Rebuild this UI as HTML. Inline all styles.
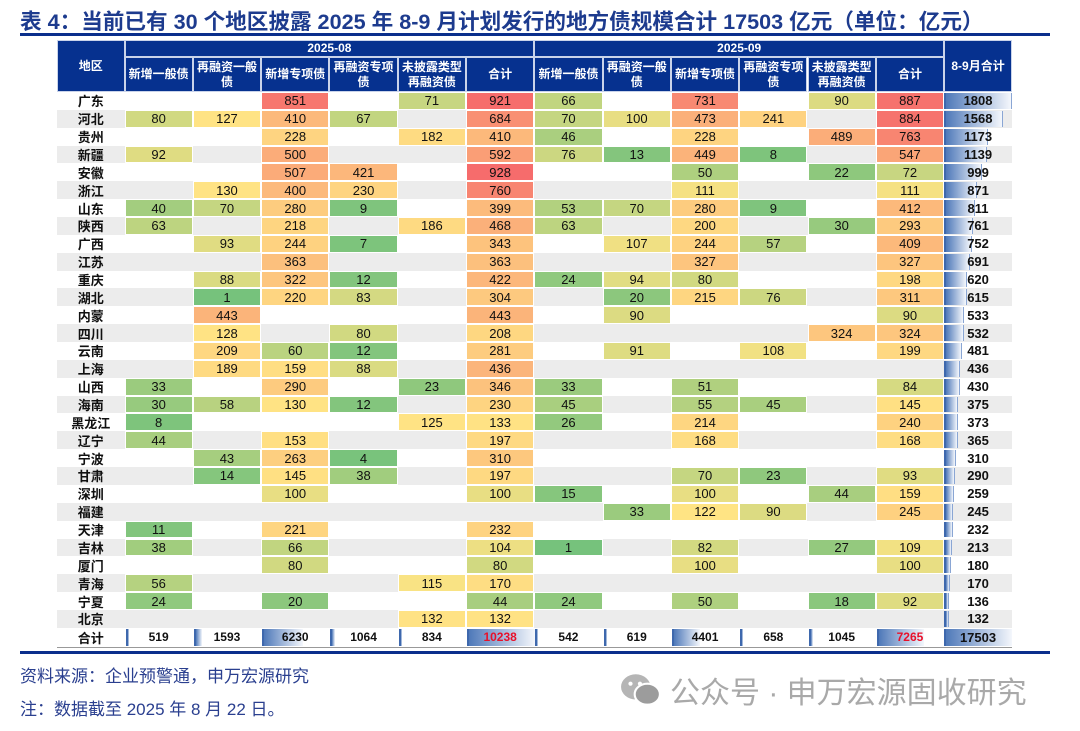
<!DOCTYPE html>
<html><head><meta charset="utf-8">
<style>
body{margin:0;width:1080px;height:731px;background:#fff;position:relative;overflow:hidden;font-family:"Liberation Sans","Noto Sans CJK SC",sans-serif;}
.abs{position:absolute;box-sizing:border-box;}
.c{display:flex;align-items:center;justify-content:center;font-size:13px;color:#111;}
.h{background:#06318f;color:#fff;font-weight:bold;font-size:12px;text-align:center;display:flex;align-items:center;justify-content:center;border:1px solid #c9d3ea;line-height:15px;}
</style></head><body>
<div class="abs" style="left:20px;top:5px;font-size:21.6px;font-weight:bold;color:#1d3b8e;white-space:nowrap;">表 4：当前已有 30 个地区披露 2025 年 8-9 月计划发行的地方债规模合计 17503 亿元（单位：亿元）</div>
<div class="abs" style="left:20px;top:33px;width:1030px;height:3px;background:#0a2f8c;"></div>
<div id="tbl"></div>
<div class="abs" style="left:20px;top:651px;width:1030px;height:3px;background:#0a2f8c;"></div>
<div class="abs" style="left:20px;top:662px;font-size:17px;color:#2a3f8f;">资料来源：企业预警通，申万宏源研究</div>
<div class="abs" style="left:20px;top:695px;font-size:17px;color:#2a3f8f;">注：数据截至 2025 年 8 月 22 日。</div>
<div class="abs" style="left:620px;top:668px;font-size:30px;color:#a9a9a9;white-space:nowrap;display:flex;align-items:center;">
<svg width="42" height="36" viewBox="0 0 40 34" style="margin-right:8px"><ellipse cx="15" cy="14" rx="14" ry="12" fill="#b5b5b5"/><ellipse cx="26" cy="21" rx="12" ry="10" fill="#9c9c9c" stroke="#fff" stroke-width="2"/><circle cx="10" cy="11" r="2" fill="#fff"/><circle cx="19" cy="11" r="2" fill="#fff"/></svg>公众号 · 申万宏源固收研究</div>
<script>
const regions=["广东","河北","贵州","新疆","安徽","浙江","山东","陕西","广西","江苏","重庆","湖北","内蒙","四川","云南","上海","山西","海南","黑龙江","辽宁","宁波","甘肃","深圳","福建","天津","吉林","厦门","青海","宁夏","北京"];
const colHeads=["新增一般债","再融资一般<br>债","新增专项债","再融资专项<br>债","未披露类型<br>再融资债","合计"];
const aug=[[null,null,851,null,71,921],[80,127,410,67,null,684],[null,null,228,null,182,410],[92,null,500,null,null,592],[null,null,507,421,null,928],[null,130,400,230,null,760],[40,70,280,9,null,399],[63,null,218,null,186,468],[null,93,244,7,null,343],[null,null,363,null,null,363],[null,88,322,12,null,422],[null,1,220,83,null,304],[null,443,null,null,null,443],[null,128,null,80,null,208],[null,209,60,12,null,281],[null,189,159,88,null,436],[33,null,290,null,23,346],[30,58,130,12,null,230],[8,null,null,null,125,133],[44,null,153,null,null,197],[null,43,263,4,null,310],[null,14,145,38,null,197],[null,null,100,null,null,100],[null,null,null,null,null,null],[11,null,221,null,null,232],[38,null,66,null,null,104],[null,null,80,null,null,80],[56,null,null,null,115,170],[24,null,20,null,null,44],[null,null,null,null,132,132]];
const sep=[[66,null,731,null,90,887],[70,100,473,241,null,884],[46,null,228,null,489,763],[76,13,449,8,null,547],[null,null,50,null,22,72],[null,null,111,null,null,111],[53,70,280,9,null,412],[63,null,200,null,30,293],[null,107,244,57,null,409],[null,null,327,null,null,327],[24,94,80,null,null,198],[null,20,215,76,null,311],[null,90,null,null,null,90],[null,null,null,null,324,324],[null,91,null,108,null,199],[null,null,null,null,null,null],[33,null,51,null,null,84],[45,null,55,45,null,145],[26,null,214,null,null,240],[null,null,168,null,null,168],[null,null,null,null,null,null],[null,null,70,23,null,93],[15,null,100,null,44,159],[null,33,122,90,null,245],[null,null,null,null,null,null],[1,null,82,null,27,109],[null,null,100,null,null,100],[null,null,null,null,null,null],[24,null,50,null,18,92],[null,null,null,null,null,null]];
const rowTotals=[1808,1568,1173,1139,999,871,811,761,752,691,620,615,533,532,481,436,430,375,373,365,310,290,259,245,232,213,180,170,136,132];
const augTotals=[519,1593,6230,1064,834,10238];
const sepTotals=[542,619,4401,658,1045,7265];
const grandTotal=17503;

const tbl=document.getElementById('tbl');
const X0=57,RX=124.5,CW=68.3,TOP=40,H1=17,H2=35,RY=92,RH=17.86;
const colX=i=>RX+i*CW;
const rowY=r=>RY+r*RH;
function mk(cls,l,t,w,h,html,style){const d=document.createElement('div');d.className='abs '+cls;d.style.left=l+'px';d.style.top=t+'px';d.style.width=w+'px';d.style.height=h+'px';if(html!=null)d.innerHTML=html;if(style)d.style.cssText+=style;tbl.appendChild(d);return d;}
function lerp(a,b,t){return a.map((v,i)=>Math.round(v+(b[i]-v)*t));}
const G=[118,194,124],Y=[255,228,132],R=[246,108,108];
function color(v){const mid=120,mx=928;let c;if(v<=mid)c=lerp(G,Y,Math.max(0,(v-1)/(mid-1)));else c=lerp(Y,R,Math.min(1,(v-mid)/(mx-mid)));return `rgb(${c})`;}

let e;
e=mk('h',X0,TOP,RX-X0,H1+H2,'地区');


e=mk('h',colX(0),TOP,CW*6,H1,'2025-08');


e=mk('h',colX(6),TOP,CW*6,H1,'2025-09');


e=mk('h',colX(12),TOP,1012-colX(12),H1+H2,'8-9月合计');


for(let i=0;i<12;i++){
  e=mk('h',colX(i),TOP+H1,CW,H2,colHeads[i%6]);
  
  
}
regions.forEach((reg,r)=>{
  const y=rowY(r);
  if(r%2==1){e=mk('',X0,y,1012-X0,RH,null,'background:#ececec;');
    
    }
  e=mk('c',X0,y,RX-X0,RH,reg,'font-weight:bold;');
  
  
  const vals=aug[r].concat(sep[r]);
  vals.forEach((v,i)=>{
    if(v==null)return;
    e=mk('c',colX(i),y,CW,RH,String(v),'background:'+color(v)+';border:1px solid #fff;');
    
    
  });
  const w=1012-colX(12);
  const bw=Math.max(3,w*rowTotals[r]/rowTotals[0]);
  e=mk('',colX(12),y+1,bw,RH-2,null,'background:linear-gradient(90deg,#4f79b9,#f4f7fc);border-left:2px solid #3e68ad;border-right:1px solid #8aa6d4;');
  
  
  e=mk('c',colX(12),y,w,RH,String(rowTotals[r]),'font-weight:bold;');
  
  
});
const ty=rowY(30);
e=mk('c',X0,ty,RX-X0,RH+1,'合计','font-weight:bold;');


const tv=augTotals.concat(sepTotals);
tv.forEach((v,i)=>{
  const bw=Math.max(3,CW*Math.min(1,(v-400)/(10238-400)));
  e=mk('',colX(i)+1,ty+1,bw,RH-1,null,'background:linear-gradient(90deg,#4f79b9,#f4f7fc);border-left:2px solid #3e68ad;');
  
  
  e=mk('c',colX(i),ty,CW,RH+1,String(v),'font-weight:bold;font-size:12px;'+((i==5||i==11)?'color:#e8102a;':''));
  
  
});
e=mk('',colX(12),ty+1,1012-colX(12),RH-1,null,'background:linear-gradient(90deg,#4f79b9,#f4f7fc);border-left:2px solid #3e68ad;');


e=mk('c',colX(12),ty,1012-colX(12),RH+1,String(grandTotal),'font-weight:bold;');


e=mk('',X0,ty+RH+1,1012-X0,1.5,null,'background:#999;');


</script>
</body></html>
